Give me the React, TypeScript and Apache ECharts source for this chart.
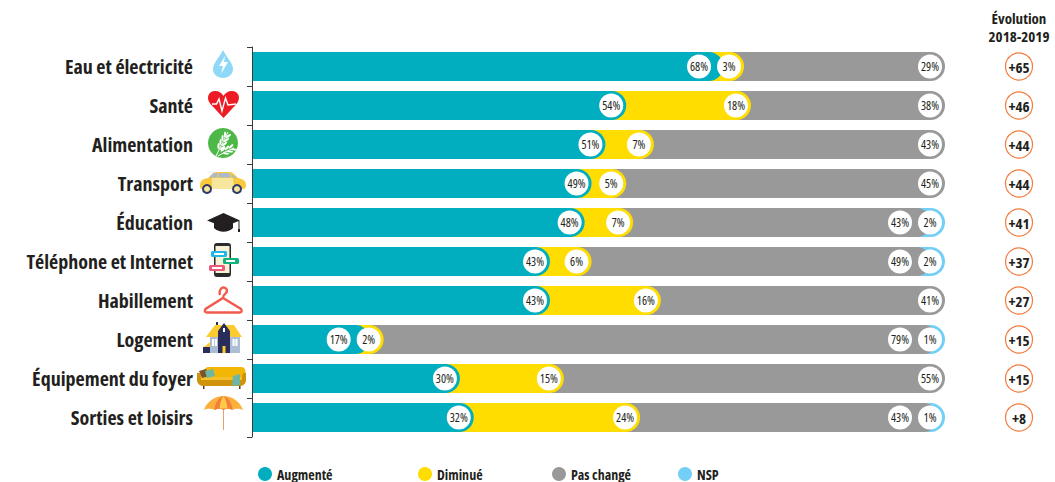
import React, { useEffect, useRef } from "react";
import * as echarts from "echarts";

const categories = [
  "Eau et électricité", "Santé", "Alimentation", "Transport", "Éducation",
  "Téléphone et Internet", "Habillement", "Logement", "Équipement du foyer", "Sorties et loisirs",
];
const augmente = [68, 54, 51, 49, 48, 43, 43, 17, 30, 32];
const diminue = [3, 18, 7, 5, 7, 6, 16, 2, 15, 24];
const pasChange = [29, 38, 43, 45, 43, 49, 41, 79, 55, 43];
const nsp = [null, null, null, null, 2, 2, null, 1, null, 1];
const evolution = [65, 46, 44, 44, 41, 37, 27, 15, 15, 8];

const TEAL = "#00AEC0";
const YELLOW = "#FFDD00";
const GREY = "#999999";
const SKY = "#73CFF5";
const ORANGE = "#F47B3C";
const INK = "#231F20";
const CONDENSED = '"Open Sans", sans-serif';

const GRID_LEFT = 252;
const GRID_WIDTH = 693;
const BAR = 29;
const BADGE = 24;
const PX_PER_POINT = GRID_WIDTH / 100;

// Segment ends along the bar. The closing segment always reaches the end of the
// track, absorbing rounding in the published percentages.
const rows = categories.map((_, i) => {
  const a = augmente[i];
  const d = a + diminue[i];
  const hasNsp = nsp[i] !== null;
  const p = hasNsp ? Math.min(100, 100 - (nsp[i] as number)) : 100;
  return { a, d, p, n: hasNsp ? 100 : null };
});

// Pushes a white value badge left when the next one along the bar would sit on it.
const badgeShifts = rows.map((r) => {
  const ends = [r.a, r.d, r.p, r.n];
  const shifts = [0, 0, 0, 0];
  let nextCentre = Infinity;
  for (let k = 3; k >= 0; k--) {
    if (ends[k] === null) continue;
    const centre = (ends[k] as number) * PX_PER_POINT - BADGE / 2 - 3;
    const placed = Math.min(centre, nextCentre - BADGE - 6);
    shifts[k] = placed - centre;
    nextCentre = placed;
  }
  return shifts;
});

const segment = (name: string, color: string, key: "a" | "d" | "p" | "n", idx: number, labels: (number | null)[]) => ({
  name,
  type: "bar",
  barWidth: BAR,
  barGap: "-100%",
  xAxisIndex: 0,
  yAxisIndex: 0,
  itemStyle: { color, borderRadius: [0, BAR / 2, BAR / 2, 0] },
  label: {
    show: true,
    position: "insideRight",
    distance: 3,
    formatter: (p: any) => `{b|${labels[p.dataIndex]}%}`,
    rich: {
      b: {
        backgroundColor: "#fff",
        width: BADGE,
        height: BADGE,
        lineHeight: BADGE,
        borderRadius: BADGE / 2,
        align: "center",
        color: INK,
        fontFamily: CONDENSED,
        fontWeight: 500,
        fontSize: 12,
      },
    },
  },
  data: rows.map((r, i) => ({
    value: r[key],
    label: { offset: [badgeShifts[i][idx], 0] },
  })),
});

// Row icons: vector outlines in page coordinates.
const SHAPES: Record<string, string> = {
  rsDrop: "M223 50C219 58 213 63 213 69C213 74.5 217.5 78 223 78C228.5 78 233 74.5 233 69C233 63 227 58 223 50Z",
  rsHeart: "M223.5 118L210.5 104C205.5 98 208.5 91 215 91C219 91 222 93 223.5 96C225 93 228 91 232 91C238.5 91 241.5 98 236.5 104Z",
  rsCarBody: "M200 186C200 181 202 179 208 178L213 173C214 172 216 172 218 172L229 172C231 172 232 172.5 234 174L238 178C243 179 246 181 246 185C246 188 245 189 243 189L202 189C200.5 189 200 188 200 186Z",
  rsCarDoor: "M212 178L233 178L234 189L212 189Z",
  rsCarGlass: "M209 177.5L214 173L218 173L217 177.5ZM219 173L229 173L231 177.5L218.5 177.5ZM230.5 173.5L237 178L233 178Z",
  rsCapBase: "M214 222L233 222L233 228C228 233 219 233 214 228Z",
  rsCapTop: "M223.5 213L240 220.5L223.5 227L207 220.5Z",
  rsHook: "M220 295C219 292 220 288 223 287.5C226.5 287 228 291 226 293C224.5 294.5 223 295 223 298M223 298L241 309C242.5 311 241.5 312.5 239.5 312.5L207 312.5C205 312.5 204 311 205.5 309Z",
  rsRoof: "M206 337L215 325L234 325L242 337Z",
  rsTower: "M218 331L224 323L230 331L230 353L218 353Z",
  rsSofaBack: "M204 372C204 369 206 367 209 367L241 367C244 367 245.5 369 245.5 372L245.5 379L204 379Z",
  rsSofaArms: "M197 373C199 372 201 373 201 376L201 380L242 380L242 376C242 373 245 372 246 373L246 381C245 385 242 386 240 386L204 386C200 386 198 384 197 381Z",
  rsCanopy: "M223.5 396C233 396 241 403 243 410C240 408.5 236 408 232 410C229 408 226 408 223.5 410C221 408 218 408 215 410C211 408 207 408.5 204 410C206 403 214 396 223.5 396Z",
  rsPanel: "M223.5 396C218 398 215 403 214.5 410C217.5 408.3 220.5 408.3 223.5 410C226.5 408.3 229.5 408.3 232.5 410C232 403 229 398 223.5 396Z",
  rsPanelLight: "M223.5 396C221 399 220 404 219.5 408.6C222 408.4 225 408.4 227.5 408.6C227 404 226 399 223.5 396Z",
};
Object.entries(SHAPES).forEach(([name, d]) => {
  echarts.graphic.registerShape(name, echarts.graphic.extendPath(d, {}));
});

const fill = (type: string, color: string) => ({ type, silent: true, style: { fill: color } });
const rect = (x: number, y: number, width: number, height: number, color: string, r = 0) => ({
  type: "rect", silent: true, shape: { x, y, width, height, r }, style: { fill: color },
});
const circle = (cx: number, cy: number, r: number, color: string, stroke?: string, lineWidth = 0) => ({
  type: "circle", silent: true, shape: { cx, cy, r }, style: { fill: color, stroke, lineWidth },
});
const line = (points: number[][], stroke: string, lineWidth: number) => ({
  type: "polyline", silent: true, shape: { points }, style: { fill: "none", stroke, lineWidth },
});
const poly = (points: number[][], color: string) => ({
  type: "polygon", silent: true, shape: { points }, style: { fill: color },
});
const grain = (cx: number, cy: number, rot: number) => ({
  type: "ellipse", silent: true, shape: { cx: 0, cy: 0, rx: 3, ry: 1.1 }, x: cx, y: cy, rotation: rot, style: { fill: "#fff" },
});

const wheat = [
  circle(223, 143, 15, "#4DB848"),
  line([[216, 156], [221, 146], [228, 132]], "#fff", 1),
  grain(218.5, 146, 1.5), grain(222.5, 148, 0.6),
  grain(220.5, 142, 1.5), grain(224.5, 144, 0.6),
  grain(222.5, 138, 1.5), grain(226.5, 140, 0.6),
  grain(225, 134.5, 1.5), grain(228.5, 136, 0.6),
  line([[218, 156], [225, 152], [234, 148]], "#fff", 1),
  grain(223, 149.5, 0.75), grain(226, 153.5, -0.05),
  grain(227, 148, 0.75), grain(230, 151.5, -0.05),
  grain(231, 146.5, 0.75), grain(234, 149.5, -0.05),
];

const icons = [
  fill("rsDrop", "#8FD8F8"),
  poly([[225, 56], [219, 66], [223, 66], [221, 74], [228, 62], [224, 62]], "#fff"),
  fill("rsHeart", "#ED1C24"),
  line([[212, 104], [216.5, 104], [219, 99], [222, 111], [225.5, 98], [228, 105], [236, 104]], "#fff", 1.4),
  ...wheat,
  fill("rsCarBody", "#FBC93D"),
  fill("rsCarDoor", "#F6E79C"),
  fill("rsCarGlass", "#A9BAD0"),
  circle(207, 189, 4, "#F6E79C", "#2E3A68", 2),
  circle(237, 189, 4, "#F6E79C", "#2E3A68", 2),
  fill("rsCapBase", "#231F20"),
  fill("rsCapTop", "#231F20"),
  rect(238.5, 221, 1, 9, "#231F20"),
  rect(238, 229, 2, 3, "#231F20"),
  rect(214, 243, 17, 34, "#2B2B2B", 3),
  rect(215.5, 246, 14, 27, "#F7F1D6"),
  rect(211, 251, 16, 6, "#1EB8F0", 1.5),
  rect(223, 258, 16, 6, "#12B27C", 1.5),
  rect(209, 265, 16, 6, "#F0587A", 1.5),
  rect(214, 253, 10, 2, "#fff"),
  rect(226, 260, 9, 2, "#fff"),
  rect(212, 267, 10, 2, "#fff"),
  { ...fill("rsHook", "none"), style: { fill: "none", stroke: "#F15A4C", lineWidth: 2.4 } },
  rect(216, 322, 2, 5, "#2A2C5C"),
  fill("rsRoof", "#FCCB2D"),
  rect(210, 337, 30, 16, "#ADBDD5"),
  rect(203, 347, 7, 6, "#2A2C5C"),
  poly([[204, 347], [210, 342], [210, 347]], "#FCCB2D"),
  fill("rsTower", "#2A2C5C"),
  rect(223, 328, 2, 4, "#fff"),
  rect(222.5, 346, 3, 7, "#FCCB2D"),
  rect(212, 339, 5, 7, "#fff"),
  rect(232.5, 339, 5, 7, "#fff"),
  rect(214.1, 339, 0.8, 7, "#ADBDD5"),
  rect(234.6, 339, 0.8, 7, "#ADBDD5"),
  fill("rsSofaBack", "#F2B705"),
  rect(201, 377, 41, 4, "#F5C02A"),
  fill("rsSofaArms", "#CF930C"),
  rect(203, 386, 1.5, 3, "#5B3A1E"),
  rect(239, 386, 1.5, 3, "#5B3A1E"),
  poly([[199, 371], [206, 369], [209, 376], [202, 378]], "#7A5426"),
  poly([[205, 371], [213, 369], [215, 376], [207, 378]], "#6DB5A5"),
  poly([[233, 376], [240, 374], [240, 385], [232, 386]], "#6DB5A5"),
  rect(223, 408, 1, 22, "#E8A06A"),
  fill("rsCanopy", "#FBB03B"),
  fill("rsPanel", "#F47F3A"),
  fill("rsPanelLight", "#FFC94A"),
];

const legendAt = (name: string, left: number) => ({
  data: [name],
  left,
  top: 467,
  padding: 0,
  icon: "circle",
  itemWidth: 14,
  itemHeight: 14,
  selectedMode: false,
  textStyle: { fontFamily: CONDENSED, fontWeight: "bold", fontSize: 14, color: INK },
});

export default function App() {
  const ref = useRef<HTMLDivElement>(null);

  useEffect(() => {
    const chart = echarts.init(ref.current, undefined, { renderer: "svg" });
    chart.setOption({
      animation: false,
      backgroundColor: "#fff",
      grid: [
        { left: GRID_LEFT, top: 47, width: GRID_WIDTH, height: 390, outerBoundsMode: "none" },
        { left: 1000, top: 47, width: 38, height: 390, outerBoundsMode: "none" },
      ],
      xAxis: [
        { type: "value", gridIndex: 0, min: 0, max: 100, show: false },
        { type: "value", gridIndex: 1, min: 0, max: 1, show: false },
      ],
      yAxis: [
        {
          type: "category",
          gridIndex: 0,
          inverse: true,
          data: categories,
          axisLine: { show: true, lineStyle: { color: "#3A3A3A", width: 1 } },
          axisTick: { show: true, length: 5, lineStyle: { color: "#3A3A3A", width: 1 } },
          axisLabel: {
            margin: 59,
            color: INK,
            fontFamily: CONDENSED,
            fontWeight: "bold",
            fontSize: 20,
          },
          z: 5,
        },
        { type: "category", gridIndex: 1, inverse: true, data: categories, show: false },
      ],
      legend: [
        legendAt("Augmenté", 258),
        legendAt("Diminué", 418),
        legendAt("Pas changé", 552),
        legendAt("NSP", 678),
      ],
      series: [
        segment("NSP", SKY, "n", 3, nsp),
        segment("Pas changé", GREY, "p", 2, pasChange),
        segment("Diminué", YELLOW, "d", 1, diminue),
        segment("Augmenté", TEAL, "a", 0, augmente),
        {
          name: "Évolution",
          type: "scatter",
          xAxisIndex: 1,
          yAxisIndex: 1,
          symbol: "circle",
          symbolSize: 27,
          itemStyle: { color: "#fff", borderColor: ORANGE, borderWidth: 1.2, opacity: 1 },
          label: {
            show: true,
            position: "inside",
            color: INK,
            fontFamily: CONDENSED,
            fontWeight: "bold",
            fontSize: 15,
            formatter: (p: any) => `+${evolution[p.dataIndex]}`,
          },
          data: evolution.map((v, i) => [0.5, categories[i]]),
        },
      ],
      graphic: [
        ...icons,
        {
          type: "text",
          silent: true,
          x: 1019,
          y: 9,
          style: {
            text: "Évolution\n2018-2019",
            fill: INK,
            font: `bold 15px ${CONDENSED}`,
            align: "center",
            lineHeight: 18,
          },
        },
      ],
    });
    return () => chart.dispose();
  }, []);

  return (
    <div ref={ref} style={{ position: "absolute", left: 0, top: 0, width: 1055, height: 482 }}>
      <style>{"svg text { font-stretch: 75% !important; }"}</style>
    </div>
  );
}
